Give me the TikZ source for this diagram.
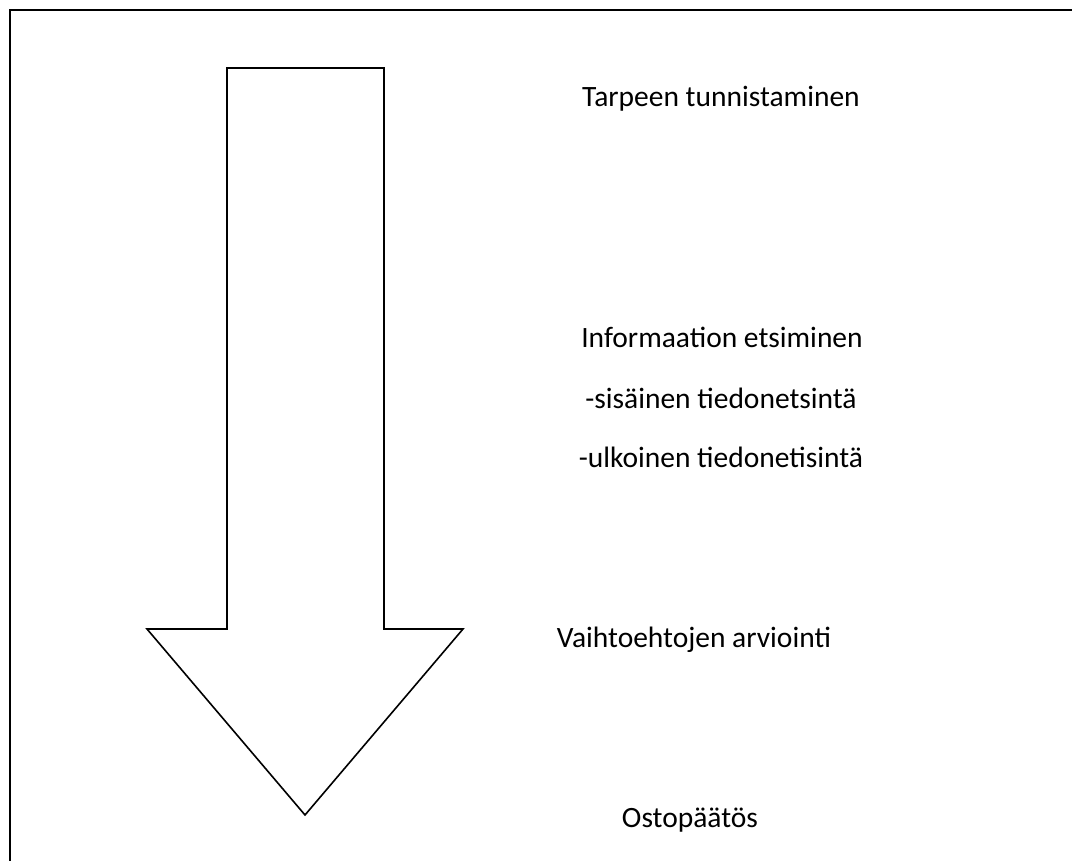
\documentclass[tikz,border=0pt]{standalone}
\usepackage{fontspec}
\setmainfont{Carlito}
\begin{document}
\begin{tikzpicture}[x=1pt,y=-1pt,
  lbl/.style={anchor=base,inner sep=0pt,font=\fontsize{29.5}{34}\selectfont},
  shape line/.style={draw=black,line width=1.6pt,line join=miter}]
\useasboundingbox (0,0) rectangle (1072,861);
\fill[white] (0,0) rectangle (1072,861);
% open frame
\draw[line width=2pt] (10,870) -- (10,10) -- (1080,10);
% big arrow
\draw[shape line] (227,68) -- (384,68) -- (384,629) -- (463,629) -- (305,815)
  -- (147,629) -- (227,629) -- cycle;
\node[lbl] (t1) at (721,107) {Tarpeen tunnistaminen};
\node[lbl] (t2) at (722,348) {Informaation etsiminen};
\node[lbl] (t3) at (721,408) {-sisäinen tiedonetsintä};
\node[lbl] (t4) at (721,467) {-ulkoinen tiedonetisintä};
\node[lbl] (t5) at (694,647) {Vaihtoehtojen arviointi};
\node[lbl] (t6) at (690,827) {Ostopäätös};
\end{tikzpicture}
\end{document}
